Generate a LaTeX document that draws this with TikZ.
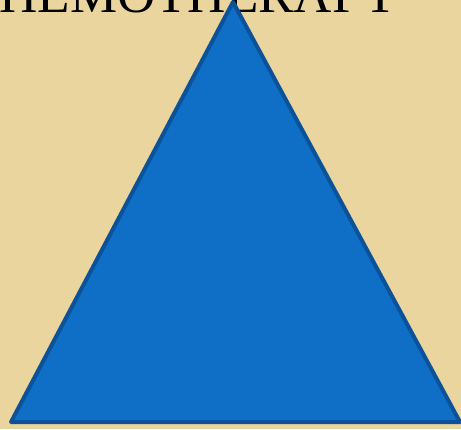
\documentclass[tikz,border=0pt]{standalone}
\usepackage{fontspec}
\setmainfont{Liberation Serif}
\usepackage{xcolor}
\definecolor{parchment}{RGB}{235,213,158}
\definecolor{pyrfill}{RGB}{15,111,198}
\definecolor{pyredge}{RGB}{12,82,152}

\begin{document}
\begin{tikzpicture}[x=1pt,y=-1pt]
\useasboundingbox (0,0) rectangle (461,429);
\clip (0,0) rectangle (461,429);
\fill[parchment] (0,0) rectangle (461,429);
\node[anchor=base west,inner sep=0pt,font=\fontsize{53}{53}\selectfont] (title) at (-36,12) {CHEMOTHERAPY};
\coordinate (top) at (233,2);
\coordinate (left) at (11,422);
\coordinate (right) at (460,422);
\filldraw[fill=pyrfill,draw=pyredge,line width=4pt,line join=round] (top)--(left)--(right)--cycle;
\end{tikzpicture}
\end{document}
